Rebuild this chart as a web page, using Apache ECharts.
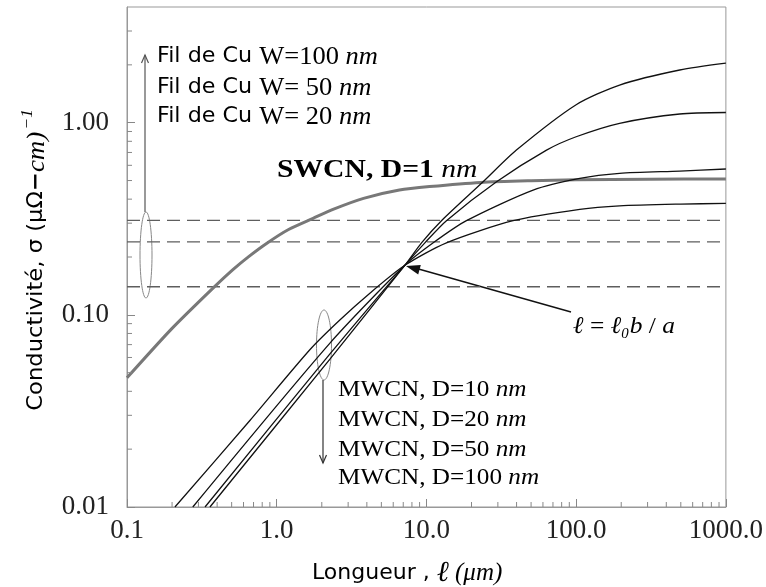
<!DOCTYPE html>
<html><head><meta charset="utf-8">
<script src="https://cdn.jsdelivr.net/npm/echarts@6/dist/echarts.min.js"></script>
<style>html,body{margin:0;padding:0;background:#fff}#c{width:766px;height:587px}</style>
</head><body><div id="c"></div>
<script>
// ---- data ----
const xTickLabels = ['0.1', '1.0', '10.0', '100.0', '1000.0'];
const yTickLabels = ['0.01', '0.10', '1.00'];
const xRange = [0.1, 1000];
const yRange = [0.01, 4];
const xMinorTicks = [0.2,0.3,0.4,0.5,0.6,0.7,0.8,0.9, 2,3,4,5,6,7,8,9, 20,30,40,50,60,70,80,90, 200,300,400,500,600,700,800,900];
const yMinorTicks = [0.02,0.03,0.04,0.05,0.06,0.07,0.08,0.09, 0.2,0.3,0.4,0.5,0.6,0.7,0.8,0.9, 2,3];

const swcnLength = [0.1, 0.2, 0.38, 0.51, 0.65, 0.86, 1.2, 1.75, 2.4, 3.8, 6.6, 10.5, 23, 50, 100, 300, 1000];
const swcnSigma  = [0.047, 0.085, 0.139, 0.172, 0.201, 0.236, 0.278, 0.318, 0.355, 0.404, 0.446, 0.465, 0.489, 0.499, 0.504, 0.508, 0.509];

const mwcn10Length  = [0.209, 0.662, 1.67, 2.64, 4.19, 7.17, 13.6, 37.9, 105.7, 195, 500, 1000];
const mwcn10Sigma   = [0.010, 0.0282, 0.066, 0.094, 0.1296, 0.181, 0.237, 0.309, 0.354, 0.369, 0.377, 0.380];
const mwcn20Length  = [0.275, 2.26, 7.17, 11.1, 18.5, 51.6, 105.7, 195, 492, 1000];
const mwcn20Sigma   = [0.010, 0.0711, 0.181, 0.237, 0.309, 0.446, 0.513, 0.545, 0.560, 0.574];
const mwcn50Length  = [0.332, 2.26, 7.17, 9.76, 13.6, 29.4, 63.4, 100, 195, 492, 1000];
const mwcn50Sigma   = [0.010, 0.0624, 0.181, 0.237, 0.309, 0.4925, 0.72, 0.845, 0.993, 1.11, 1.13];
const mwcn100Length = [0.358, 2.26, 7.17, 9.27, 12.6, 23.9, 39.9, 100, 195, 492, 1000];
const mwcn100Sigma  = [0.010, 0.0587, 0.181, 0.237, 0.309, 0.4925, 0.72, 1.24, 1.57, 1.88, 2.04];

const cuWidthLabels = ['W=100', 'W= 50', 'W= 20'];
const cuSigma = [0.31, 0.24, 0.14];

// ---- build ----
const zip = (a, b) => a.map((v, i) => [v, b[i]]);
const serif = '"Liberation Serif", "DejaVu Serif", serif';
const sans = '"DejaVu Sans", sans-serif';

const mwcnStyle = { color: '#111', width: 1.3 };
function curve(name, xs, ys, ls, z) {
  return { name, type: 'line', data: zip(xs, ys), showSymbol: false, smooth: 0.25,
    lineStyle: ls, itemStyle: { color: ls.color }, z: z, silent: true, animation: false };
}

const series = [];
cuSigma.forEach((s, i) => {
  series.push({ name: 'Cu ' + cuWidthLabels[i], type: 'line', data: [[xRange[0], s], [xRange[1], s]],
    showSymbol: false, silent: true, animation: false, z: 1,
    lineStyle: { color: '#5e5e5e', width: 1.3, type: [13, 7] } });
});
series.push(curve('SWCN', swcnLength, swcnSigma, { color: '#787878', width: 3 }, 2));
series.push(curve('MWCN D=10', mwcn10Length, mwcn10Sigma, mwcnStyle, 3));
series.push(curve('MWCN D=20', mwcn20Length, mwcn20Sigma, mwcnStyle, 3));
series.push(curve('MWCN D=50', mwcn50Length, mwcn50Sigma, mwcnStyle, 3));
series.push(curve('MWCN D=100', mwcn100Length, mwcn100Sigma, mwcnStyle, 3));

// minor ticks drawn through the axes' scales
const minorData = xMinorTicks.map(v => [v, yRange[0], 1]).concat(yMinorTicks.map(v => [xRange[0], v, 0]));
series.push({
  type: 'custom', data: minorData, silent: true, animation: false, clip: false, z: 5,
  renderItem: function (params, api) {
    const p = api.coord([api.value(0), api.value(1)]);
    const horiz = api.value(2) === 0;
    return { type: 'line', shape: horiz ? { x1: p[0], y1: p[1], x2: p[0] + 5, y2: p[1] }
                                        : { x1: p[0], y1: p[1], x2: p[0], y2: p[1] - 5 },
      style: { stroke: '#888', lineWidth: 1 } };
  }
});

const chart = echarts.init(document.getElementById('c'), null, { renderer: 'canvas' });

const txt = (x, y, text, rich, extra) => Object.assign({ type: 'text', x: x, y: y, silent: true,
  style: { text: text, rich: rich, align: 'left', verticalAlign: 'middle' } }, extra || {});

const cuRich = {
  s: { fontFamily: sans, fontSize: 21, color: '#111' },
  r: { fontFamily: serif, fontSize: 25, color: '#111' },
  i: { fontFamily: serif, fontSize: 25, fontStyle: 'italic', color: '#111' }
};
const mwRich = {
  r: { fontFamily: serif, fontSize: 24, color: '#111' },
  i: { fontFamily: serif, fontSize: 24, fontStyle: 'italic', color: '#111' }
};
const mwLabels = ['MWCN, D=10', 'MWCN, D=20', 'MWCN, D=50', 'MWCN, D=100'];
const mwY = [390, 420, 450, 478];
const cuY = [57, 88, 117];

const graphic = [];
cuWidthLabels.forEach((w, i) => graphic.push(txt(157, cuY[i], '{s|Fil de Cu }{r|' + w + ' }{i|nm}', cuRich, { scaleX: 1.06 })));
mwLabels.forEach((m, i) => graphic.push(txt(338, mwY[i], '{r|' + m + ' }{i|nm}', mwRich, { scaleX: 1.05 })));
graphic.push(txt(277, 170, '{b|SWCN, D=1 }{i|nm}', {
  b: { fontFamily: serif, fontSize: 26, fontWeight: 'bold', color: '#777' },
  i: { fontFamily: serif, fontSize: 26, fontStyle: 'italic', color: '#777' }
}, { scaleX: 1.14 }));
graphic.push(txt(573, 327, '{i|ℓ}{r| = }{i|ℓ}{s|0}{i|b}{r| / }{i|a}', {
  i: { fontFamily: serif, fontSize: 24, fontStyle: 'italic', color: '#111' },
  r: { fontFamily: serif, fontSize: 24, color: '#111' },
  s: { fontFamily: serif, fontSize: 14, fontStyle: 'italic', color: '#111', padding: [14, 1, 0, 0] }
}, { scaleX: 1.06 }));
// axis titles
graphic.push(txt(312, 573, '{s|Longueur , }{l|ℓ}{i| (μm)}', {
  s: { fontFamily: sans, fontSize: 22, color: '#111' },
  l: { fontFamily: '"DejaVu Serif", serif', fontSize: 29, fontStyle: 'italic', color: '#111' },
  i: { fontFamily: serif, fontSize: 25, fontStyle: 'italic', color: '#111' }
}));
graphic.push({ type: 'text', x: 37, y: 260, rotation: Math.PI / 2, scaleX: 1.08, silent: true,
  style: { text: '{s|Conductivité, σ (μΩ}{b|−}{i|cm)}{p|−1}', align: 'center', verticalAlign: 'middle',
    rich: {
      s: { fontFamily: sans, fontSize: 21, color: '#111' },
      b: { fontFamily: sans, fontSize: 21, fontWeight: 'bold', color: '#111' },
      i: { fontFamily: serif, fontSize: 25, fontStyle: 'italic', color: '#111' },
      p: { fontFamily: serif, fontSize: 16, fontStyle: 'italic', color: '#111', padding: [0, 0, 18, 2] }
    } } });
// Cu ellipse + arrow
graphic.push({ type: 'ellipse', silent: true, shape: { cx: 146, cy: 255, rx: 6, ry: 43 },
  style: { fill: 'none', stroke: '#888', lineWidth: 1 } });
graphic.push({ type: 'line', silent: true, shape: { x1: 145, y1: 212, x2: 145, y2: 55 }, style: { stroke: '#555', lineWidth: 1.2 } });
graphic.push({ type: 'polyline', silent: true, shape: { points: [[141.5, 63], [145, 55], [148.5, 63]] }, style: { stroke: '#555', lineWidth: 1.2, fill: 'none' } });
// MWCN ellipse + arrow
graphic.push({ type: 'ellipse', silent: true, shape: { cx: 324, cy: 345, rx: 7.5, ry: 35 },
  style: { fill: 'none', stroke: '#888', lineWidth: 1 } });
graphic.push({ type: 'line', silent: true, shape: { x1: 323, y1: 380, x2: 323, y2: 463 }, style: { stroke: '#333', lineWidth: 1.2 } });
graphic.push({ type: 'polyline', silent: true, shape: { points: [[319.5, 455], [323, 463], [326.5, 455]] }, style: { stroke: '#333', lineWidth: 1.2, fill: 'none' } });
// formula arrow
graphic.push({ type: 'line', silent: true, shape: { x1: 571, y1: 312, x2: 415, y2: 268 }, style: { stroke: '#111', lineWidth: 1.3 } });
graphic.push({ type: 'polygon', silent: true, shape: { points: [[406, 266], [418.2, 274.6], [420.8, 265]] }, style: { fill: '#111' } });

chart.setOption({
  animation: false,
  backgroundColor: '#fff',
  grid: { left: 127, right: 40, top: 7, bottom: 80, show: true, borderColor: '#999', borderWidth: 1, backgroundColor: 'transparent' },
  xAxis: {
    type: 'log', logBase: 10, min: xRange[0], max: xRange[1],
    axisLine: { lineStyle: { color: '#999' } },
    axisTick: { inside: true, length: 8, lineStyle: { color: '#888' } },
    splitLine: { show: false },
    axisLabel: { margin: 10, fontFamily: serif, fontSize: 27, color: '#222',
      formatter: v => xTickLabels[Math.round(Math.log10(v)) + 1] || '' }
  },
  yAxis: {
    type: 'log', logBase: 10, min: yRange[0], max: yRange[1],
    axisLine: { lineStyle: { color: '#999' } },
    axisTick: { inside: true, length: 8, lineStyle: { color: '#888' } },
    splitLine: { show: false },
    axisLabel: { margin: 18, fontFamily: serif, fontSize: 27, color: '#222', showMaxLabel: false,
      formatter: v => { const k = Math.log10(v); return Math.abs(k - Math.round(k)) < 1e-6 ? (yTickLabels[Math.round(k) + 2] || '') : ''; } }
  },
  series: series,
  graphic: graphic
});
</script></body></html>
